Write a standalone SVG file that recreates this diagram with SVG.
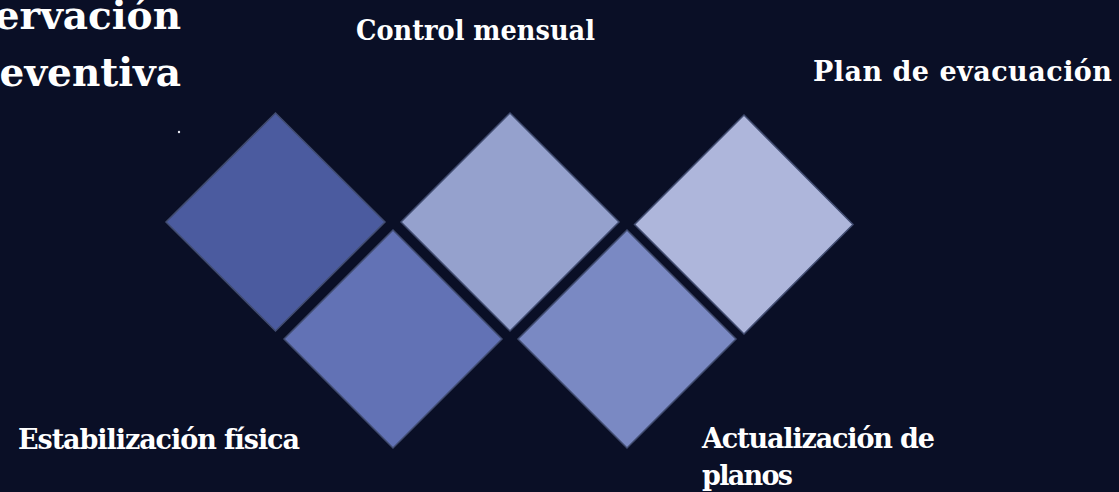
<svg xmlns="http://www.w3.org/2000/svg" width="1119" height="492" viewBox="0 0 1119 492">
  <style>
    .bg { fill: #0a0f26; }
    .dia { stroke: #414c70; stroke-width: 1.5; }
    .lbl { font-family: "DejaVu Serif", "Liberation Serif", serif; font-weight: bold; font-size: 27px; fill: #ffffff; }
    .title { font-family: "DejaVu Serif", "Liberation Serif", serif; font-weight: bold; font-size: 39px; fill: #ffffff; }
  </style>
  <rect class="bg" x="0" y="0" width="1119" height="492"/>

  <g id="title">
    <text class="title" x="181" y="29" text-anchor="end">ervación</text>
    <text class="title" x="181" y="86" text-anchor="end">eventiva</text>
    <circle cx="179" cy="132" r="1.2" fill="#e8e8f0"/>
  </g>

  <g id="connectors"></g>

  <g id="node-estabilizacion-top">
    <polygon class="dia" fill="#4b5b9f" points="275.5,113 385,222 275.5,331 166,222"/>
  </g>
  <g id="node-control-mensual">
    <polygon class="dia" fill="#95a1cd" points="510,113 619,222 510,331 401,222"/>
  </g>
  <g id="node-plan-evacuacion">
    <polygon class="dia" fill="#aeb6db" points="744,115 853,224.5 744,334 634.5,224.5"/>
  </g>
  <g id="node-estabilizacion-bottom">
    <polygon class="dia" fill="#6272b5" points="393,230 502,339 393,448 284,339"/>
  </g>
  <g id="node-actualizacion">
    <polygon class="dia" fill="#7a89c3" points="627,230 736,339 627,448 518,339"/>
  </g>

  <g id="labels">
    <text class="lbl" x="356" y="40" textLength="239" lengthAdjust="spacingAndGlyphs">Control mensual</text>
    <text class="lbl" x="813" y="81" textLength="299">Plan de evacuación</text>
    <text class="lbl" x="18" y="449" textLength="282">Estabilización física</text>
    <text class="lbl" x="702" y="448" textLength="233">Actualización de</text>
    <text class="lbl" x="702" y="485" textLength="91">planos</text>
  </g>
</svg>
